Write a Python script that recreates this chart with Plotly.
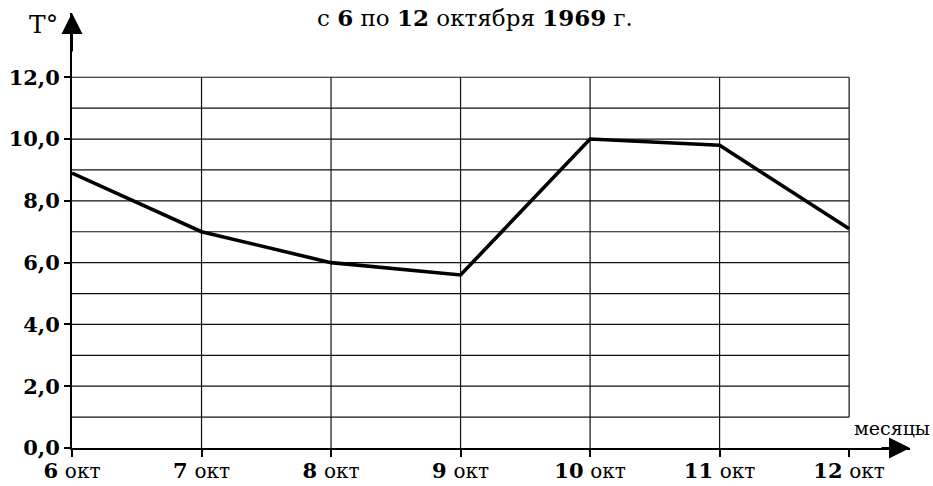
import plotly.graph_objects as go

# Daily temperature, 6–12 October 1969
days = ["6", "7", "8", "9", "10", "11", "12"]
month_abbr = "окт"
temps = [8.9, 7.0, 6.0, 5.6, 10.0, 9.8, 7.1]

y_tick_vals = [0, 2, 4, 6, 8, 10, 12]
y_tick_text = ["0,0", "2,0", "4,0", "6,0", "8,0", "10,0", "12,0"]
grid_levels = list(range(1, 13))

SERIF = "DejaVu Serif"
x_idx = list(range(len(days)))
x_max = len(days) - 1
x_end = x_max + 0.47     # axis runs past the last day up to the arrow
y_top = 12
y_end = 14.08

fig = go.Figure()

fig.add_trace(go.Scatter(
    x=x_idx, y=temps, mode="lines",
    line=dict(color="black", width=3.6),
    hoverinfo="skip", showlegend=False,
))

shapes = []
# horizontal grid lines
for lv in grid_levels:
    shapes.append(dict(type="line", xref="x", yref="y", x0=0, x1=x_max, y0=lv, y1=lv,
                       line=dict(color="#111", width=1.2), layer="below"))
# vertical grid lines (last one stops at the first grid level)
for i in x_idx[1:]:
    y0 = 1 if i == x_max else 0
    shapes.append(dict(type="line", xref="x", yref="y", x0=i, x1=i, y0=y0, y1=y_top,
                       line=dict(color="#111", width=1.2), layer="below"))

annotations = [
    # axis arrowheads at the ends of both axes (paper-anchored so they are not clipped)
    dict(x=1, y=0, ax=-30, ay=0, xref="paper", yref="paper",
         text="", showarrow=True, arrowhead=2, arrowsize=2.1, arrowwidth=2, arrowcolor="black"),
    dict(x=0, y=1, ax=0, ay=40, xref="paper", yref="paper",
         text="", showarrow=True, arrowhead=2, arrowsize=2.1, arrowwidth=2, arrowcolor="black"),
    # titles
    dict(xref="paper", yref="paper", x=(475 - 72) / 838, y=(448 - 18) / 435,
         xanchor="center", yanchor="middle", showarrow=False,
         text="с <b>6</b> по <b>12</b> октября <b>1969</b> г.",
         font=dict(family=SERIF, size=23, color="black")),
    dict(xref="paper", yref="paper", x=(60 - 72) / 838, y=(448 - 24) / 435,
         xanchor="right", yanchor="middle", showarrow=False,
         text="T°", font=dict(family=SERIF, size=25, color="black")),
    dict(xref="paper", yref="paper", x=(932 - 72) / 838, y=(448 - 428) / 435,
         xanchor="right", yanchor="middle", showarrow=False,
         text="месяцы", font=dict(family=SERIF, size=19, color="black")),
]

x_tick_text = [f"<b>{d}</b> <span style='font-size:20px;font-weight:normal'>{month_abbr}</span>"
               for d in days]

fig.update_layout(
    width=933, height=486,
    margin=dict(l=72, r=23, t=13, b=38, pad=0),
    paper_bgcolor="white", plot_bgcolor="white",
    shapes=shapes, annotations=annotations,
    xaxis=dict(range=[0, x_end], tickvals=x_idx, ticktext=x_tick_text, automargin=False,
               showgrid=False, zeroline=False, showline=True, linecolor="black", linewidth=2,
               ticks="outside", ticklen=7, tickwidth=1.5, tickcolor="black",
               ticklabelstandoff=-4,
               tickfont=dict(family=SERIF, size=21, color="black"), fixedrange=True),
    yaxis=dict(range=[0, y_end], tickvals=y_tick_vals, ticktext=[f"<b>{t}</b>" for t in y_tick_text],
               automargin=False,
               showgrid=False, zeroline=False, showline=True, linecolor="black", linewidth=2,
               ticks="outside", ticklen=6, tickwidth=1.5, tickcolor="black",
               tickfont=dict(family=SERIF, size=21, color="black"), fixedrange=True),
)

fig.write_html("out.html", config=dict(displayModeBar=False))
